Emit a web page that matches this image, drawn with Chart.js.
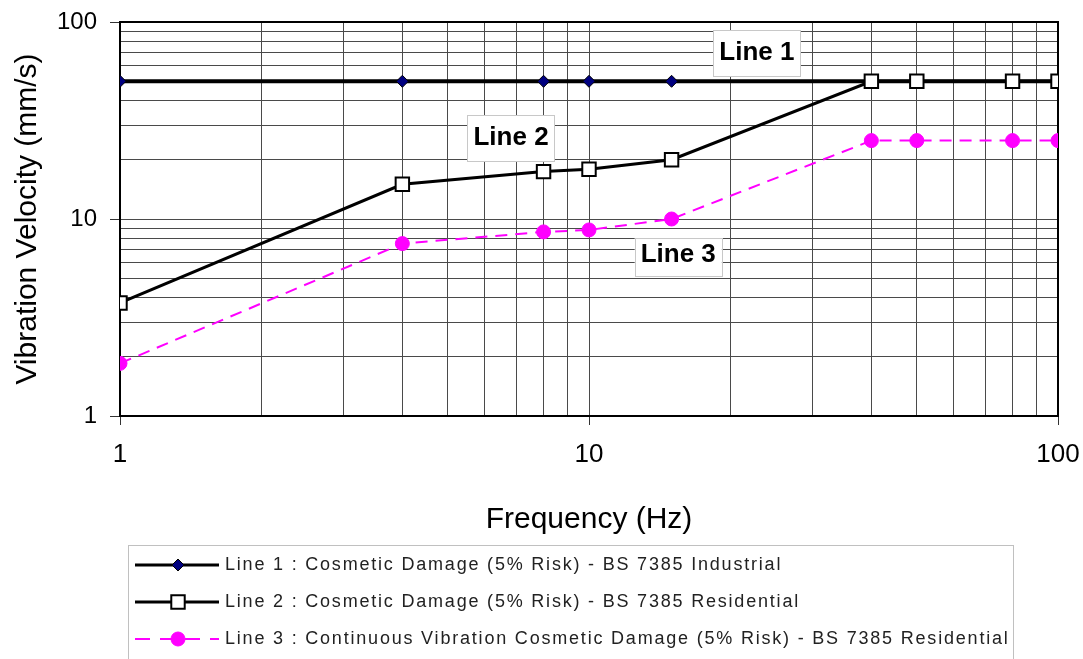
<!DOCTYPE html>
<html><head><meta charset="utf-8">
<script src="https://cdn.jsdelivr.net/npm/chart.js@4/dist/chart.umd.min.js"></script>
<style>html,body{margin:0;padding:0;background:#fff;overflow:hidden}</style>
</head><body>
<canvas id="c" width="1083" height="659"></canvas>
<script>
// ---- data ----
const frequencies = [1, 4, 8, 10, 15, 40, 50, 80, 100];
const line1Values = [50, 50, 50, 50, 50, 50, 50, 50, 50];
const line2Values = [3.75, 15, 17.4, 17.9, 20, 50, 50, 50, 50];
const line3Values = [1.85, 7.5, 8.6, 8.8, 10, 25, 25, 25, 25];
const seriesNames = [
  'Line 1 : Cosmetic Damage (5% Risk) - BS 7385 Industrial',
  'Line 2 : Cosmetic Damage (5% Risk) - BS 7385 Residential',
  'Line 3 : Continuous Vibration Cosmetic Damage (5% Risk) - BS 7385 Residential'
];
const tickValues = [1,2,3,4,5,6,7,8,9,10,20,30,40,50,60,70,80,90,100];
const labelledTicks = [1, 10, 100];
const xAxisTitle = 'Frequency (Hz)';
const yAxisTitle = 'Vibration Velocity (mm/s)';
const lineLabels = ['Line 1', 'Line 2', 'Line 3'];
const lineLabelX = [22.8, 6.82, 15.5];
const lineLabelY = [71.7, 26.6, 6.76];

const toPoints = (xs, ys) => xs.map((x, i) => ({x: x, y: ys[i]}));
const FONT = "'Liberation Sans', Arial, sans-serif";

const isMajor = v => labelledTicks.includes(v);

const borderPlugin = {
  id: 'areaBorder',
  beforeDatasetsDraw(chart) {
    const {ctx, chartArea: a} = chart;
    ctx.save();
    ctx.strokeStyle = '#000';
    ctx.lineWidth = 2;
    ctx.strokeRect(a.left, a.top, a.right - a.left, a.bottom - a.top);
    ctx.restore();
  }
};

const lineLabelPlugin = {
  id: 'lineLabels',
  afterDatasetsDraw(chart) {
    const {ctx, scales} = chart;
    ctx.save();
    ctx.font = "bold 26px " + FONT;
    lineLabels.forEach((t, i) => {
      const cx = scales.x.getPixelForValue(lineLabelX[i]);
      const cy = scales.y.getPixelForValue(lineLabelY[i]);
      const w = ctx.measureText(t).width + 12;
      const h = i === 2 ? 38 : 46;
      const top = cy - (i === 2 ? 15 : 20);
      ctx.fillStyle = '#fff';
      ctx.fillRect(cx - w / 2, top, w, h);
      ctx.strokeStyle = '#c8c8c8';
      ctx.lineWidth = 1;
      ctx.strokeRect(Math.round(cx - w / 2) + 0.5, Math.round(top) + 0.5, Math.round(w), h);
      ctx.fillStyle = '#000';
      ctx.textAlign = 'center';
      ctx.textBaseline = 'alphabetic';
      ctx.fillText(t, cx, cy + 9.5);
    });
    ctx.restore();
  }
};

const legendPlugin = {
  id: 'boxLegend',
  afterDraw(chart) {
    const {ctx} = chart;
    const ds = chart.data.datasets;
    ctx.save();
    ctx.strokeStyle = '#c0c0c0';
    ctx.lineWidth = 1;
    ctx.strokeRect(128.5, 545.5, 885, 130);
    const rows = [565, 602, 639];
    rows.forEach((y, i) => {
      const d = ds[i];
      ctx.save();
      ctx.strokeStyle = d.borderColor;
      ctx.lineWidth = i === 2 ? 2 : 3;
      ctx.setLineDash(i === 2 ? [15, 10] : []);
      ctx.beginPath();
      ctx.moveTo(135, y);
      ctx.lineTo(219, y);
      ctx.stroke();
      ctx.restore();
      ctx.fillStyle = d.pointBackgroundColor;
      ctx.strokeStyle = d.pointBorderColor;
      ctx.lineWidth = d.pointBorderWidth;
      Chart.helpers.drawPoint(ctx, {pointStyle: d.pointStyle, radius: d.pointRadius, borderWidth: d.pointBorderWidth}, 178, y);
      ctx.fillStyle = '#222';
      ctx.font = "18px " + FONT;
      try { ctx.letterSpacing = '1.8px'; } catch (e) {}
      ctx.textAlign = 'left';
      ctx.textBaseline = 'middle';
      ctx.fillText(seriesNames[i], 225, y);
      try { ctx.letterSpacing = '0px'; } catch (e) {}
    });
    ctx.restore();
  }
};

const gridColor = '#4a4a4a';
const noPad = s => { s.paddingLeft = 0; s.paddingRight = 0; s.paddingTop = 0; s.paddingBottom = 0; };

new Chart(document.getElementById('c'), {
  type: 'line',
  data: {
    datasets: [
      {
        label: seriesNames[0],
        data: toPoints(frequencies, line1Values),
        borderColor: '#000', borderWidth: 4,
        pointStyle: 'rectRot', pointRadius: 6,
        pointBackgroundColor: '#000080', pointBorderColor: '#000', pointBorderWidth: 1,
        tension: 0, order: 3
      },
      {
        label: seriesNames[1],
        data: toPoints(frequencies, line2Values),
        borderColor: '#000', borderWidth: 3,
        pointStyle: 'rect', pointRadius: 9.5,
        pointBackgroundColor: '#fff', pointBorderColor: '#000', pointBorderWidth: 2,
        tension: 0, order: 2
      },
      {
        label: seriesNames[2],
        data: toPoints(frequencies, line3Values),
        borderColor: '#ff00ff', borderWidth: 2, borderDash: [12, 8],
        pointStyle: 'circle', pointRadius: 7,
        pointBackgroundColor: '#ff00ff', pointBorderColor: '#ff00ff', pointBorderWidth: 1,
        tension: 0, order: 1
      }
    ]
  },
  options: {
    responsive: false,
    animation: false,
    events: [],
    layout: {padding: {left: 0, top: 22, right: 25, bottom: 121}},
    plugins: {legend: {display: false}, tooltip: {enabled: false}},
    scales: {
      x: {
        type: 'logarithmic', min: 1, max: 100,
        afterBuildTicks: s => { s.ticks = tickValues.map(v => ({value: v})); },
        afterFit: s => { s.height = 122; noPad(s); },
        grid: {color: gridColor, lineWidth: 1, tickLength: 9,
               tickColor: c => (c.tick && isMajor(c.tick.value)) ? '#333' : 'rgba(0,0,0,0)'},
        border: {color: '#000', width: 2},
        ticks: {autoSkip: false, maxRotation: 0, padding: 14, color: '#000',
                font: {family: FONT, size: 26},
                callback: v => isMajor(v) ? String(v) : ''},
        title: {display: true, text: xAxisTitle, color: '#000',
                font: {family: FONT, size: 30}, padding: {top: 0, bottom: 0}}
      },
      y: {
        type: 'logarithmic', min: 1, max: 100,
        afterBuildTicks: s => { s.ticks = tickValues.map(v => ({value: v})); },
        afterFit: s => { s.width = 120; noPad(s); },
        grid: {color: gridColor, lineWidth: 1, tickLength: 10,
               tickColor: c => (c.tick && isMajor(c.tick.value)) ? '#333' : 'rgba(0,0,0,0)'},
        border: {color: '#000', width: 2},
        ticks: {autoSkip: false, padding: 13, color: '#000',
                font: {family: FONT, size: 24},
                callback: v => isMajor(v) ? String(v) : ''},
        title: {display: true, text: yAxisTitle, color: '#000',
                font: {family: FONT, size: 30}, padding: {top: 10, bottom: 0}}
      }
    }
  },
  plugins: [borderPlugin, lineLabelPlugin, legendPlugin]
});
</script>
</body></html>
